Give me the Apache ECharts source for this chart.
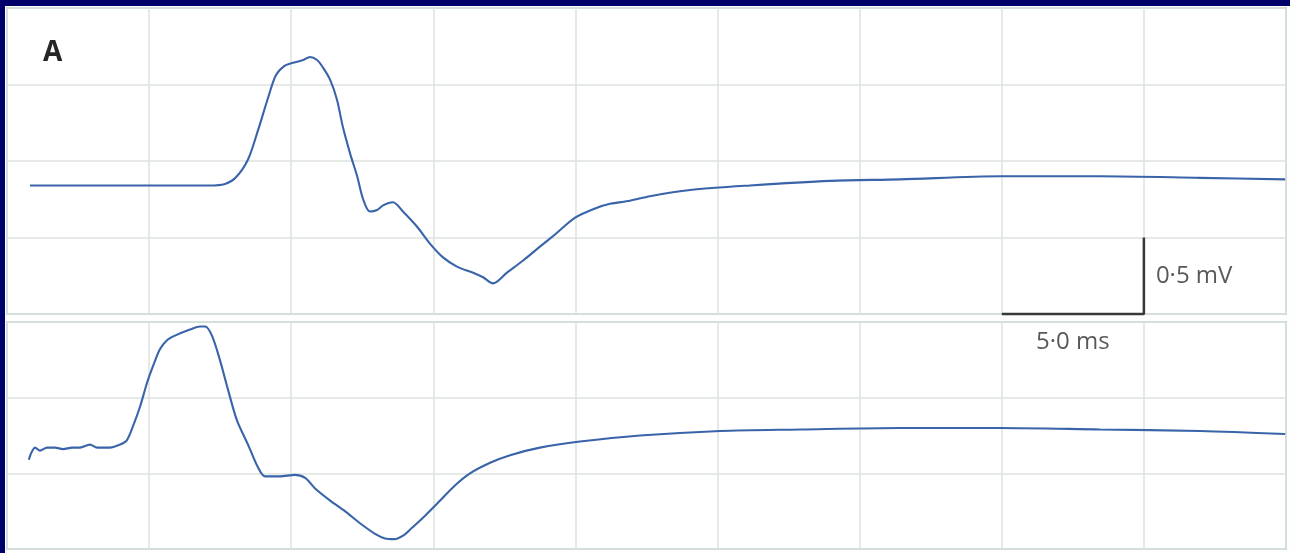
<!DOCTYPE html>
<html>
<head>
<meta charset="utf-8">
<title>Electrogram traces</title>
<script src="https://cdn.jsdelivr.net/npm/echarts@6/dist/echarts.min.js"></script>
<style>
  html, body { margin: 0; padding: 0; background: #00006a; }
  #chart { width: 1290px; height: 553px; }
</style>
</head>
<body>
<div id="chart"></div>
<script>
// Upper trace: time (ms) and potential (mV above the panel floor)
const upperTime = [0.81, 3.27, 7.14, 7.67, 8.04, 8.48, 8.83, 9.18, 9.46, 9.75, 10.03, 10.42, 10.66, 10.91, 11.12, 11.37, 11.61, 11.82, 12.07, 12.32, 12.53, 12.77, 13.02, 13.23, 13.58, 13.93, 14.43, 14.88, 15.34, 15.83, 16.40, 16.75, 17.10, 17.59, 18.16, 18.75, 19.28, 19.99, 20.69, 21.22, 21.92, 22.62, 24.03, 26.14, 28.96, 31.42, 34.94, 38.46, 41.98, 44.97];
const upperVolt = [0.84, 0.84, 0.84, 0.85, 0.89, 1.01, 1.20, 1.41, 1.56, 1.62, 1.64, 1.66, 1.68, 1.66, 1.61, 1.53, 1.40, 1.22, 1.05, 0.90, 0.75, 0.67, 0.68, 0.71, 0.73, 0.67, 0.57, 0.46, 0.37, 0.31, 0.27, 0.24, 0.20, 0.27, 0.35, 0.44, 0.52, 0.63, 0.69, 0.72, 0.74, 0.77, 0.81, 0.84, 0.87, 0.88, 0.90, 0.90, 0.89, 0.88];

// Lower trace
const lowerTime = [0.77, 0.84, 0.99, 1.16, 1.41, 1.69, 1.97, 2.29, 2.57, 2.92, 3.17, 3.62, 3.98, 4.22, 4.43, 4.68, 4.93, 5.14, 5.38, 5.63, 5.91, 6.44, 6.79, 6.97, 7.21, 7.49, 7.78, 8.09, 8.48, 8.83, 9.08, 9.61, 10.13, 10.49, 10.84, 11.37, 11.89, 12.42, 12.95, 13.30, 13.62, 13.95, 14.25, 14.71, 15.24, 15.76, 16.29, 17.00, 17.70, 18.75, 20.16, 22.27, 25.09, 27.90, 31.42, 34.94, 38.46, 41.98, 44.97];
const lowerVolt = [0.59, 0.63, 0.67, 0.65, 0.67, 0.67, 0.66, 0.67, 0.67, 0.69, 0.67, 0.67, 0.69, 0.72, 0.81, 0.94, 1.10, 1.21, 1.32, 1.38, 1.41, 1.45, 1.47, 1.47, 1.41, 1.25, 1.05, 0.85, 0.69, 0.54, 0.48, 0.48, 0.49, 0.47, 0.40, 0.32, 0.25, 0.17, 0.10, 0.07, 0.065, 0.09, 0.14, 0.22, 0.32, 0.42, 0.50, 0.57, 0.62, 0.67, 0.71, 0.75, 0.78, 0.79, 0.80, 0.80, 0.79, 0.78, 0.76];

// Calibration bar: 5.0 ms horizontally, 0.5 mV vertically
const scaleTime = [35, 40, 40];
const scaleVolt = [0, 0, 0.5];
const scaleLabels = ['0·5 mV', '5·0 ms'];
const panelLabel = 'A';

const zip = (xs, ys) => xs.map((x, i) => [x, ys[i]]);

const traceColor = '#3a64aa';
const gridColor = '#dde3df';
const borderColor = '#b6d1c1';
const textFont = '"Open Sans", "Noto Sans", sans-serif';
const labelStyle = { fontFamily: textFont, fontSize: 24, color: '#2e2e2e' };

const chart = echarts.init(document.getElementById('chart'), null, { renderer: 'canvas' });

const xAxisBase = (gridIndex) => ({
  type: 'value', gridIndex, min: 0, max: 45, interval: 5,
  axisLine: { show: false }, axisTick: { show: false }, axisLabel: { show: false },
  splitLine: { show: true, lineStyle: { color: gridColor, width: 1.5 } }
});
const yAxisBase = (gridIndex, max) => ({
  type: 'value', gridIndex, min: 0, max, interval: 0.5,
  axisLine: { show: false }, axisTick: { show: false }, axisLabel: { show: false },
  splitLine: { show: true, lineStyle: { color: gridColor, width: 1.5 } }
});

const traceSeries = (idx, data) => ({
  type: 'line', xAxisIndex: idx, yAxisIndex: idx,
  data, smooth: 0.3, showSymbol: false,
  lineStyle: { color: traceColor, width: 2.1 }, z: 5
});

chart.setOption({
  backgroundColor: '#00006a',
  animation: false,
  graphic: [{
    type: 'rect', z: -10, silent: true,
    shape: { x: 5, y: 6, width: 1290, height: 553 },
    style: { fill: '#fdfefd' }
  }],
  title: {
    text: panelLabel, left: 38, top: 34,
    textStyle: { fontFamily: textFont, fontSize: 28, fontWeight: 'bold', color: '#262626' }
  },
  grid: [
    { left: 7, top: 8, width: 1279, height: 306, show: true, backgroundColor: '#ffffff', borderColor, borderWidth: 2 },
    { left: 7, top: 322, width: 1279, height: 227, show: true, backgroundColor: '#ffffff', borderColor, borderWidth: 2 }
  ],
  xAxis: [xAxisBase(0), xAxisBase(1)],
  yAxis: [yAxisBase(0, 2), yAxisBase(1, 1.5)],
  series: [
    traceSeries(0, zip(upperTime, upperVolt)),
    traceSeries(1, zip(lowerTime, lowerVolt)),
    {
      type: 'line', xAxisIndex: 0, yAxisIndex: 0, clip: false,
      data: zip(scaleTime, scaleVolt), showSymbol: false, smooth: false,
      lineStyle: { color: '#383838', width: 2.5 }, z: 6
    },
    {
      type: 'scatter', xAxisIndex: 0, yAxisIndex: 0, clip: false, symbolSize: 0,
      data: [
        { value: [scaleTime[2], scaleVolt[2] / 2], label: Object.assign({ show: true, position: 'right', distance: 12, formatter: scaleLabels[0] }, labelStyle) },
        { value: [(scaleTime[0] + scaleTime[1]) / 2, scaleVolt[0]], label: Object.assign({ show: true, position: 'bottom', distance: 16, formatter: scaleLabels[1] }, labelStyle) }
      ],
      label: labelStyle,
      z: 7
    }
  ]
});
</script>
</body>
</html>
